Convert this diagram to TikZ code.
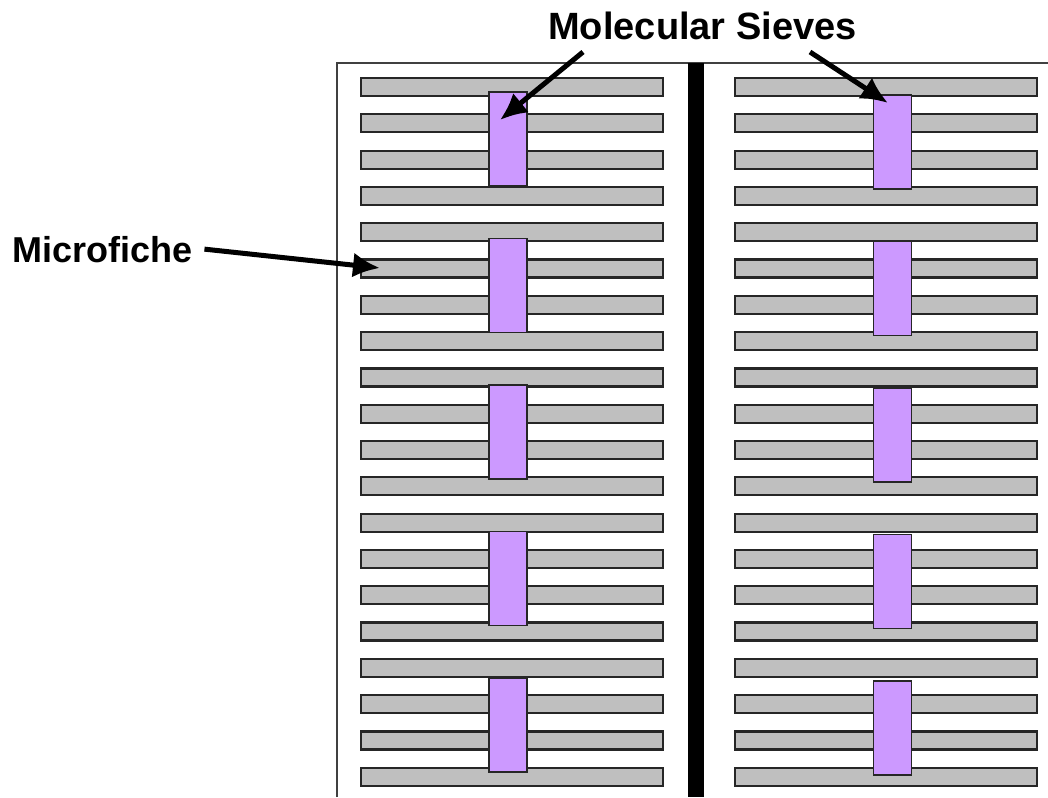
\documentclass[tikz,border=0pt]{standalone}
\usepackage{fontspec}
\setmainfont{Liberation Sans}
\usepackage{tikz}
\usetikzlibrary{positioning,arrows.meta}

\begin{document}
\begin{tikzpicture}
        [
            x=1pt, y=-1pt,
            strip/.style={rectangle, draw=black!85, fill=black!25, line width=2.2pt, minimum width=302pt, minimum height=18pt, inner sep=0pt},
            sieve/.style={rectangle, draw=black!85, fill=sievecol, line width=1.6pt, minimum width=38pt, minimum height=94pt, inner sep=0pt},
            label/.style={font=\bfseries\fontsize{38}{40}\selectfont, inner sep=0pt},
            pointer/.style={line width=5pt, -{Latex[length=27pt,width=25pt]}},
        ]
        \useasboundingbox (0,0) rectangle (1048,797);
        \definecolor{sievecol}{RGB}{204,153,255}

        %Moldura
        \draw[black!75, line width=2pt] (337,797) -- (337,63) -- (1048,63);
        \fill[black] (688,63) rectangle (704,797);

        %Fichas
        \foreach \i in {0,...,19} {
            \node[strip] (stripL\i) at (512,87+36.3*\i) {};
            \node[strip] (stripR\i) at (886,87+36.3*\i) {};
        }

        %Peneiras
        \foreach \k in {1,...,5} {
            \node[sieve] (sieveL\k) at (508,139+146.5*\k-146.5) {};
            \node[sieve] (sieveR\k) at (892.5,142+146.5*\k-146.5) {};
        }

        %Textos
        \node[label, anchor=base]      (title) at (702.5,40) {Molecular Sieves};
        \node[label, anchor=base west, font=\bfseries\fontsize{36}{38}\selectfont] (fiche) at (12,262) {Microfiche};

        %Setas
        \coordinate (tailL) at (583,52);
        \coordinate (tailR) at (810,52);
        \coordinate (tailF) at ([xshift=12pt]fiche.east);
        \coordinate (tipL)  at (500,120);
        \coordinate (tipR)  at (888,103);
        \coordinate (tipF)  at (380,268);
        \draw[pointer] (tailL) -- (tipL);
        \draw[pointer] (tailR) -- (tipR);
        \draw[pointer] (tailF) -- (tipF);
    \end{tikzpicture}
\end{document}
